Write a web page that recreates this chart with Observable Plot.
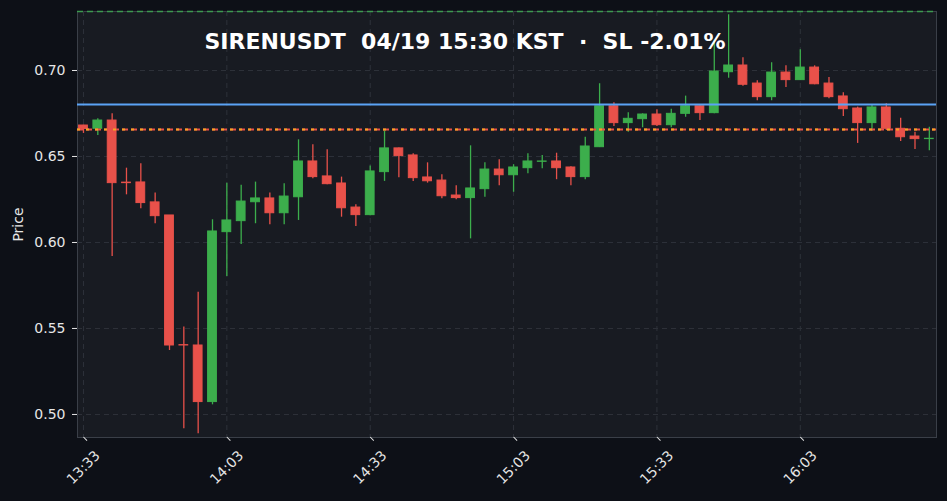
<!DOCTYPE html>
<html>
<head>
<meta charset="utf-8">
<script src="https://cdn.jsdelivr.net/npm/d3@7"></script>
<script src="https://cdn.jsdelivr.net/npm/@observablehq/plot@0.6"></script>
<style>
  html, body { margin: 0; padding: 0; background: #0d1017; }
  #chart { width: 947px; height: 501px; }
  #chart svg text { white-space: pre; }
</style>
</head>
<body>
<div id="chart"></div>
<script>
const titleText = "SIRENUSDT  04/19 15:30 KST  \u00b7  SL -2.01%";
const yLabel = "Price";

const times = [
  "13:33","13:36","13:39","13:42","13:45","13:48","13:51","13:54","13:57","14:00",
  "14:03","14:06","14:09","14:12","14:15","14:18","14:21","14:24","14:27","14:30",
  "14:33","14:36","14:39","14:42","14:45","14:48","14:51","14:54","14:57","15:00",
  "15:03","15:06","15:09","15:12","15:15","15:18","15:21","15:24","15:27","15:30",
  "15:33","15:36","15:39","15:42","15:45","15:48","15:51","15:54","15:57","16:00",
  "16:03","16:06","16:09","16:12","16:15","16:18","16:21","16:24","16:27","16:30"
];
const opens = [
  0.6680,0.6661,0.6709,0.6348,0.6349,0.6233,0.6157,0.5403,0.5401,0.5072,
  0.6060,0.6124,0.6234,0.6256,0.6170,0.6263,0.6471,0.6384,0.6343,0.6203,
  0.6159,0.6409,0.6547,0.6506,0.6378,0.6360,0.6273,0.6258,0.6310,0.6424,
  0.6391,0.6432,0.6469,0.6471,0.6436,0.6380,0.6554,0.6792,0.6694,0.6717,
  0.6744,0.6682,0.6748,0.6792,0.6752,0.6990,0.7029,0.6924,0.6845,0.6988,
  0.6944,0.7017,0.6924,0.6849,0.6779,0.6694,0.6785,0.6661,0.6616,0.6601
];
const highs = [
  0.6682,0.6719,0.6748,0.6432,0.6458,0.6287,0.6157,0.5508,0.5711,0.6132,
  0.6345,0.6333,0.6351,0.6287,0.6341,0.6597,0.6568,0.6539,0.6380,0.6219,
  0.6444,0.6647,0.6549,0.6516,0.6463,0.6394,0.6330,0.6562,0.6463,0.6481,
  0.6452,0.6516,0.6506,0.6519,0.6440,0.6612,0.6923,0.6812,0.6754,0.6748,
  0.6772,0.6775,0.6851,0.6795,0.7176,0.7324,0.7074,0.6940,0.7045,0.7027,
  0.7120,0.7027,0.6959,0.6870,0.6787,0.6797,0.6806,0.6723,0.6641,0.6670
];
const lows = [
  0.6634,0.6622,0.5919,0.6277,0.6196,0.6109,0.5372,0.4917,0.4888,0.5056,
  0.5802,0.5988,0.6109,0.6103,0.6103,0.6128,0.6370,0.6335,0.6147,0.6093,
  0.6155,0.6355,0.6376,0.6355,0.6345,0.6254,0.6248,0.6021,0.6263,0.6330,
  0.6292,0.6399,0.6428,0.6365,0.6330,0.6365,0.6552,0.6674,0.6641,0.6667,
  0.6674,0.6667,0.6728,0.6709,0.6748,0.6955,0.6909,0.6824,0.6824,0.6901,
  0.6942,0.6917,0.6835,0.6733,0.6576,0.6645,0.6651,0.6587,0.6541,0.6533
];
const closes = [
  0.6660,0.6709,0.6345,0.6345,0.6229,0.6153,0.5401,0.5401,0.5072,0.6064,
  0.6128,0.6238,0.6256,0.6170,0.6267,0.6471,0.6380,0.6339,0.6199,0.6159,
  0.6413,0.6547,0.6502,0.6374,0.6356,0.6269,0.6258,0.6314,0.6424,0.6391,
  0.6436,0.6471,0.6471,0.6432,0.6380,0.6558,0.6792,0.6694,0.6719,0.6744,
  0.6682,0.6748,0.6792,0.6752,0.6994,0.7029,0.6917,0.6845,0.6988,0.6944,
  0.7017,0.6920,0.6845,0.6775,0.6694,0.6785,0.6661,0.6612,0.6601,0.6603
];
const xTickLabels = ["13:33","14:03","14:33","15:03","15:33","16:03"];
const yTickValues = [0.50, 0.55, 0.60, 0.65, 0.70];
const tpLevel = 0.7343;
const blueLevel = 0.6802;
const orangeLevel = 0.6657;
const slLevel = 0.6657;

const parseT = s => { const [h, m] = s.split(":").map(Number); return new Date(Date.UTC(2024, 3, 19, h, m)); };
const candles = times.map((t, i) => ({
  t: parseT(t), open: opens[i], high: highs[i], low: lows[i], close: closes[i]
}));
const xTicks = xTickLabels.map(parseT);

const UP = "#3cae4c", DOWN = "#e8514a";
const colorOf = d => d.close >= d.open ? UP : DOWN;
const halfMs = 0.92 * 60000;
const xDomain = [new Date(+parseT("13:33") - 1.25 * 60000), new Date(+parseT("16:30") + 1.5 * 60000)];

const plot = Plot.plot({
  width: 947,
  height: 501,
  marginLeft: 77,
  marginRight: 11,
  marginTop: 11,
  marginBottom: 64,
  style: { background: "transparent", color: "#e6e6e6", fontFamily: "DejaVu Sans", fontSize: "14px" },
  x: { type: "utc", domain: xDomain },
  y: { domain: [0.4866, 0.7343] },
  marks: [
    Plot.frame({ fill: "#181b22", stroke: "#3a3f48" }),
    Plot.gridY(yTickValues, { stroke: "#2e323a", strokeOpacity: 1, strokeDasharray: "5,4" }),
    Plot.gridX(xTicks, { stroke: "#2e323a", strokeOpacity: 1, strokeDasharray: "5,4" }),
    Plot.axisY(yTickValues, {
      tickFormat: d3.format(".2f"), tickSize: 5, tickPadding: 7, stroke: "#e6e6e6",
      fill: "#e6e6e6", label: yLabel, labelAnchor: "center", labelArrow: "none", labelOffset: 64
    }),
    Plot.axisX(xTicks, {
      tickFormat: d3.utcFormat("%H:%M"), tickSize: 5, tickPadding: 25, rotate: -45,
      textAnchor: "middle", lineAnchor: "middle", stroke: "#e6e6e6", fill: "#e6e6e6", label: null
    }),
    Plot.ruleX(candles, { x: "t", y1: "low", y2: "high", stroke: colorOf, strokeWidth: 1.3 }),
    Plot.rect(candles, {
      x1: d => new Date(+d.t - halfMs), x2: d => new Date(+d.t + halfMs),
      y1: "open", y2: "close", fill: colorOf, stroke: colorOf, strokeWidth: 1
    }),
    Plot.ruleY([blueLevel], { stroke: "#5ba3f5", strokeWidth: 2 }),
    Plot.ruleY([slLevel], { stroke: "#e8514a", strokeWidth: 2, strokeDasharray: "6,3" }),
    Plot.ruleY([orangeLevel], { stroke: "#f5a623", strokeWidth: 2, strokeDasharray: "3,6", strokeDashoffset: 0 }),
    Plot.ruleY([tpLevel], { stroke: "#3d9a50", strokeWidth: 1.3, strokeDasharray: "6,4" }),
    Plot.text([titleText], {
      text: d => d, frameAnchor: "top", dx: -42, dy: 30,
      fill: "#ffffff", lineAnchor: "middle", textAnchor: "middle"
    })
  ]
});
const sel = d3.select(plot);
sel.selectAll("text").style("font-size", "14px", "important").style("font-family", "'DejaVu Sans'", "important");
sel.selectAll('g[aria-label="text"] text').style("font-size", "22px", "important").style("font-weight", "bold");
document.getElementById("chart").appendChild(plot);
</script>
</body>
</html>
